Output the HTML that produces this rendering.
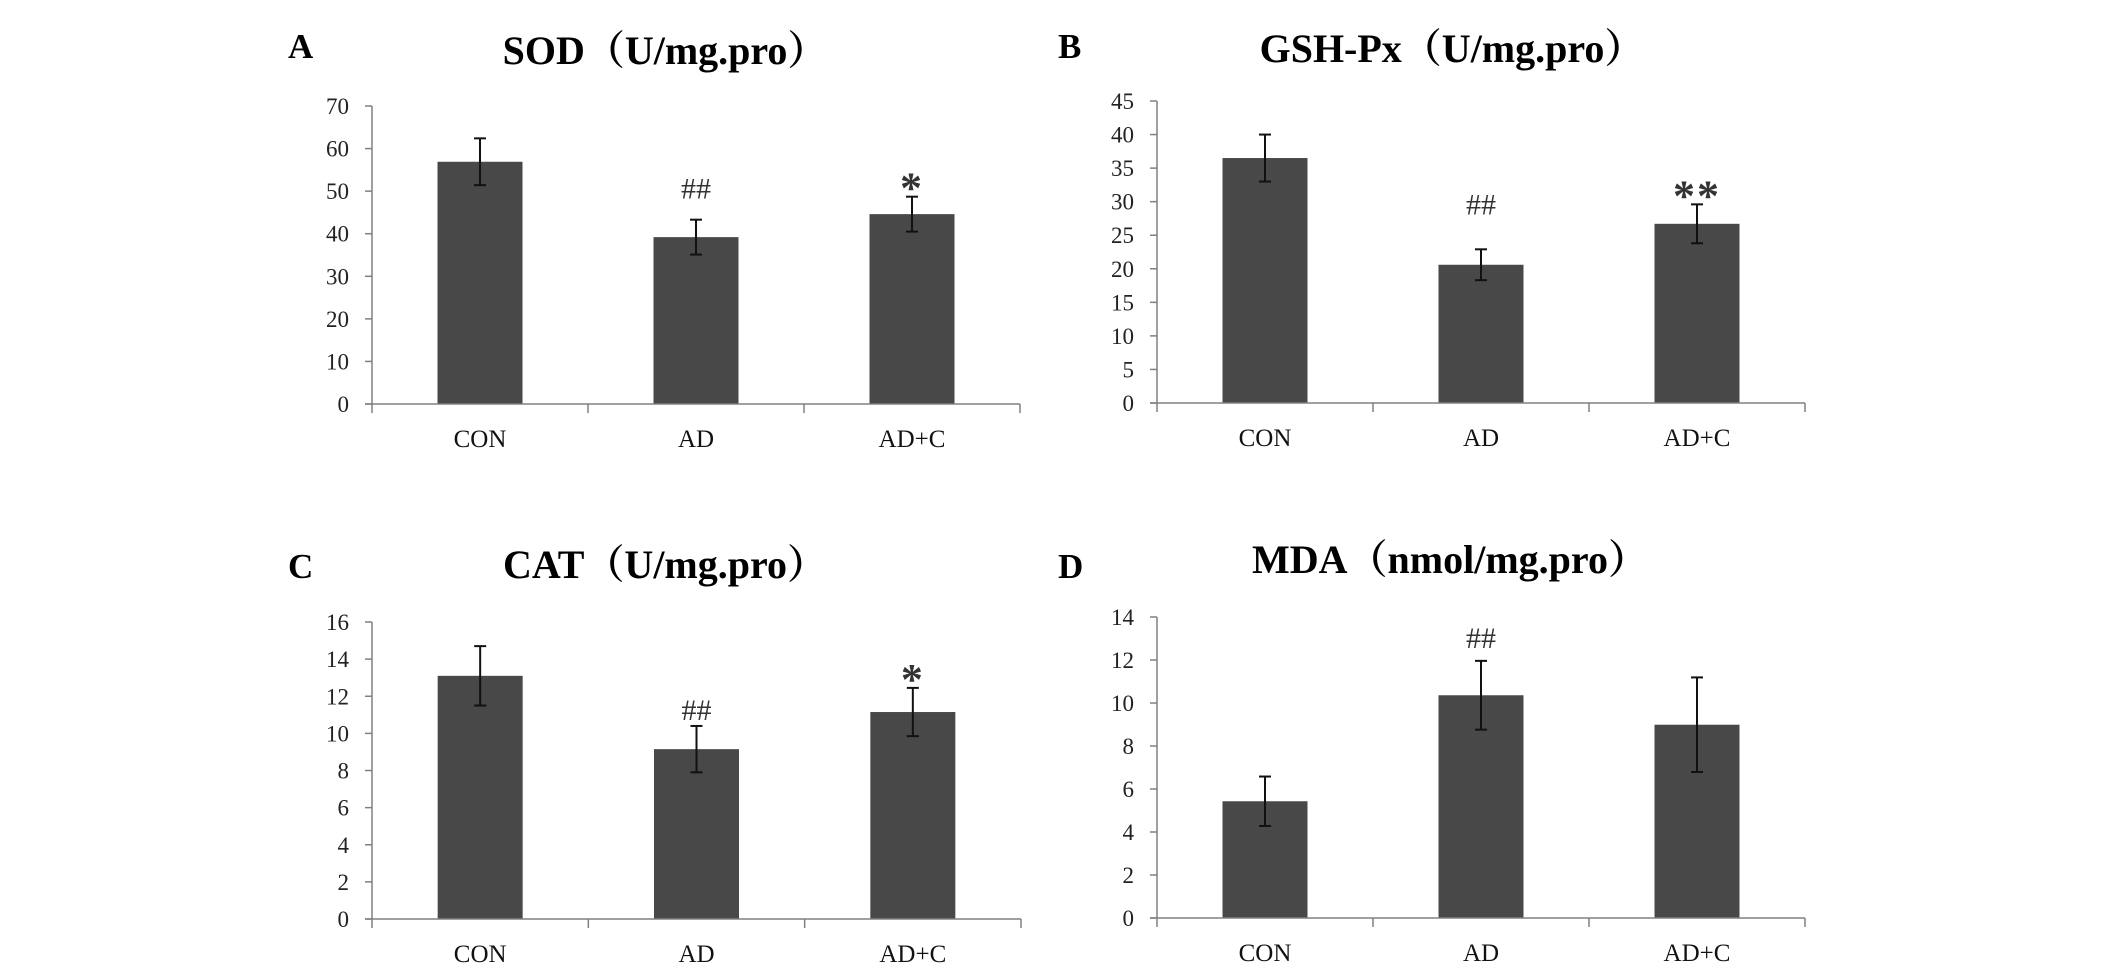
<!DOCTYPE html>
<html><head><meta charset="utf-8"><style>
html,body{margin:0;padding:0;background:#fff;}
svg{display:block;font-family:"Liberation Serif","Noto Serif CJK SC",serif;}
</style></head><body>
<svg id="fig" width="2126" height="965" viewBox="0 0 2126 965"></svg>
<script>
const categories = ["CON","AD","AD+C"];
const sodValues = [56.9, 39.2, 44.6];
const sodErrors = [5.5, 4.1, 4.1];
const sodTicks = [0,10,20,30,40,50,60,70];
const sodMarks = ["", "##", "*"];
const gshValues = [36.5, 20.6, 26.7];
const gshErrors = [3.5, 2.3, 2.9];
const gshTicks = [0,5,10,15,20,25,30,35,40,45];
const gshMarks = ["", "##", "**"];
const catValues = [13.1, 9.15, 11.15];
const catErrors = [1.6, 1.25, 1.3];
const catTicks = [0,2,4,6,8,10,12,14,16];
const catMarks = ["", "##", "*"];
const mdaValues = [5.43, 10.36, 8.99];
const mdaErrors = [1.15, 1.6, 2.2];
const mdaTicks = [0,2,4,6,8,10,12,14];
const mdaMarks = ["", "##", ""];

const NS = "http://www.w3.org/2000/svg";
const svg = document.getElementById('fig');
function mk(tag, attrs, parent, text){
  const e = document.createElementNS(NS, tag);
  for (const k in attrs) e.setAttribute(k, attrs[k]);
  if (text !== undefined) e.textContent = text;
  parent.appendChild(e);
  return e;
}

const panels = [
  {id:"sod", letter:"A", title:"SOD（U/mg.pro）", x0:372, x1:1020, yTop:106, yBot:404, lx:288, ly:58, tx:665, ty:64, markGap:21, values:sodValues, errors:sodErrors, ticks:sodTicks, marks:sodMarks},
  {id:"gsh", letter:"B", title:"GSH-Px（U/mg.pro）", x0:1157, x1:1805, yTop:101, yBot:403, lx:1058, ly:58, tx:1452, ty:62, markGap:35, values:gshValues, errors:gshErrors, ticks:gshTicks, marks:gshMarks},
  {id:"cat", letter:"C", title:"CAT（U/mg.pro）", x0:372, x1:1021, yTop:622, yBot:919, lx:288, ly:578, tx:665, ty:578, markGap:6, values:catValues, errors:catErrors, ticks:catTicks, marks:catMarks},
  {id:"mda", letter:"D", title:"MDA（nmol/mg.pro）", x0:1157, x1:1805, yTop:617, yBot:918, lx:1058, ly:578, tx:1450, ty:573, markGap:13, values:mdaValues, errors:mdaErrors, ticks:mdaTicks, marks:mdaMarks}
];

panels.forEach(p => {
  const g = mk('g', {}, svg);
  
  
  const maxT = p.ticks[p.ticks.length-1];
  const y = v => p.yBot - (v / maxT) * (p.yBot - p.yTop);
  const band = (p.x1 - p.x0) / categories.length;
  const xc = i => p.x0 + band * (i + 0.5);

  const L = mk('text', {x:p.lx, y:p.ly, 'font-size':35, 'font-weight':'bold', fill:'#000'}, g, p.letter);
  
  
  const T = mk('text', {x:p.tx, y:p.ty, 'font-size':40, 'font-weight':'bold', 'text-anchor':'middle', fill:'#000'}, g, p.title);
  
  

  const ya = mk('line', {x1:p.x0, y1:p.yTop, x2:p.x0, y2:p.yBot, stroke:'#808080', 'stroke-width':1.5}, g);
  
  
  p.ticks.forEach(t => {
    const tk = mk('line', {x1:p.x0-7, y1:y(t), x2:p.x0, y2:y(t), stroke:'#808080', 'stroke-width':1.5}, g);
    
    
    const tl = mk('text', {x:p.x0-23, y:y(t)+8, 'font-size':23, 'text-anchor':'end', fill:'#222'}, g, String(t));
    
    
  });

  categories.forEach((c, i) => {
    const v = p.values[i], e = p.errors[i];
    const bw = 85;
    const b = mk('rect', {x:xc(i)-bw/2, y:y(v), width:bw, height:p.yBot-y(v), fill:'#484848'}, g);
    
    
    const eg = mk('g', {stroke:'#111', 'stroke-width':2}, g);
    
    
    mk('line', {x1:xc(i), y1:y(v+e), x2:xc(i), y2:y(v-e)}, eg);
    mk('line', {x1:xc(i)-6, y1:y(v+e), x2:xc(i)+6, y2:y(v+e)}, eg);
    mk('line', {x1:xc(i)-6, y1:y(v-e), x2:xc(i)+6, y2:y(v-e)}, eg);
    const m = p.marks[i];
    if (m) {
      const isStar = m.indexOf('*') >= 0;
      const a = mk('text', {x:xc(i), y: isStar ? y(v+e)+6 : y(v+e)-p.markGap, 'font-size': isStar ? 44 : 30, 'font-weight': isStar ? 'bold' : 'normal', 'text-anchor':'middle', fill:'#333', 'letter-spacing': isStar ? 2 : 0}, g, m);
      
      
    }
    const cl = mk('text', {x:xc(i), y:p.yBot+43, 'font-size':25, 'text-anchor':'middle', fill:'#111'}, g, c);
    
    
  });

  const xa = mk('line', {x1:p.x0-7, y1:p.yBot, x2:p.x1, y2:p.yBot, stroke:'#808080', 'stroke-width':1.5}, g);
  
  
  for (let k = 0; k <= categories.length; k++) {
    const xt = mk('line', {x1:p.x0+band*k, y1:p.yBot, x2:p.x0+band*k, y2:p.yBot+9, stroke:'#808080', 'stroke-width':1.5}, g);
    
    
  }
});
</script>
</body></html>
